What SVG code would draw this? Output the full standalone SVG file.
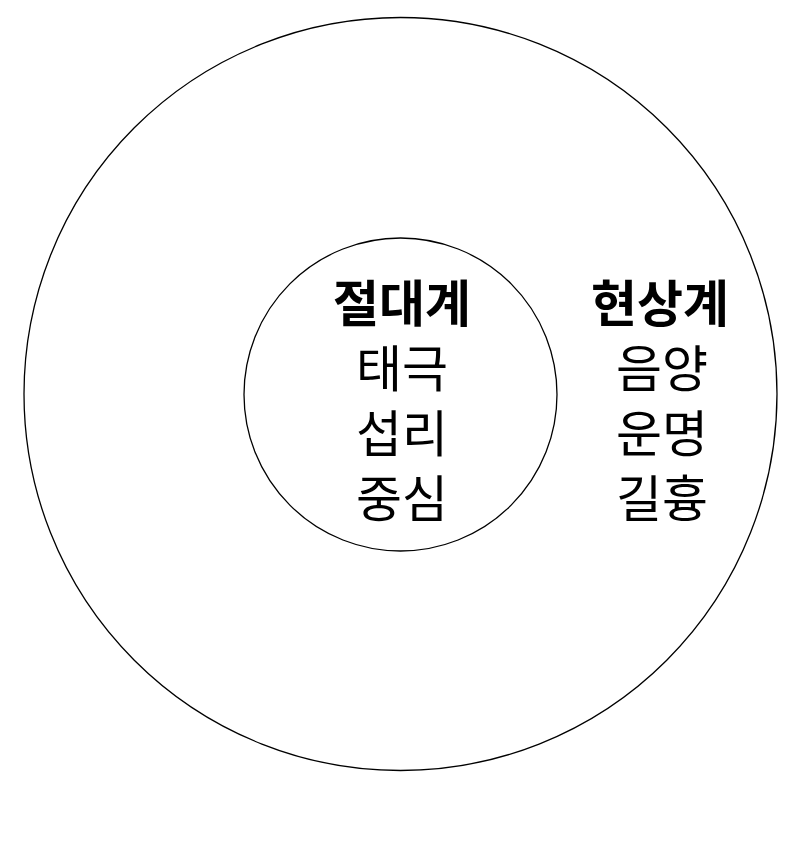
<svg xmlns="http://www.w3.org/2000/svg" width="800" height="868" viewBox="0 0 800 868">
<style>
.ring{fill:none;stroke:#000;stroke-width:1.3}
.t{font-family:"Noto Sans CJK KR","Noto Sans",sans-serif;font-size:50px;fill:#000;text-anchor:middle}
.b{font-weight:bold}
</style>
<rect width="800" height="868" fill="#fff"/>
<g id="outer"><circle class="ring" cx="400.5" cy="394" r="376.5"/></g>
<g id="inner"><circle class="ring" cx="400.5" cy="394.5" r="156.5"/></g>
<g id="absolute">
<text class="t b" x="402" y="322">절대계</text>
<text class="t" x="402" y="387">태극</text>
<text class="t" x="402" y="452">섭리</text>
<text class="t" x="402" y="517">중심</text>
</g>
<g id="phenomenal">
<text class="t b" x="660" y="322">현상계</text>
<text class="t" x="662" y="387">음양</text>
<text class="t" x="662" y="452">운명</text>
<text class="t" x="662" y="517">길흉</text>
</g>
</svg>
